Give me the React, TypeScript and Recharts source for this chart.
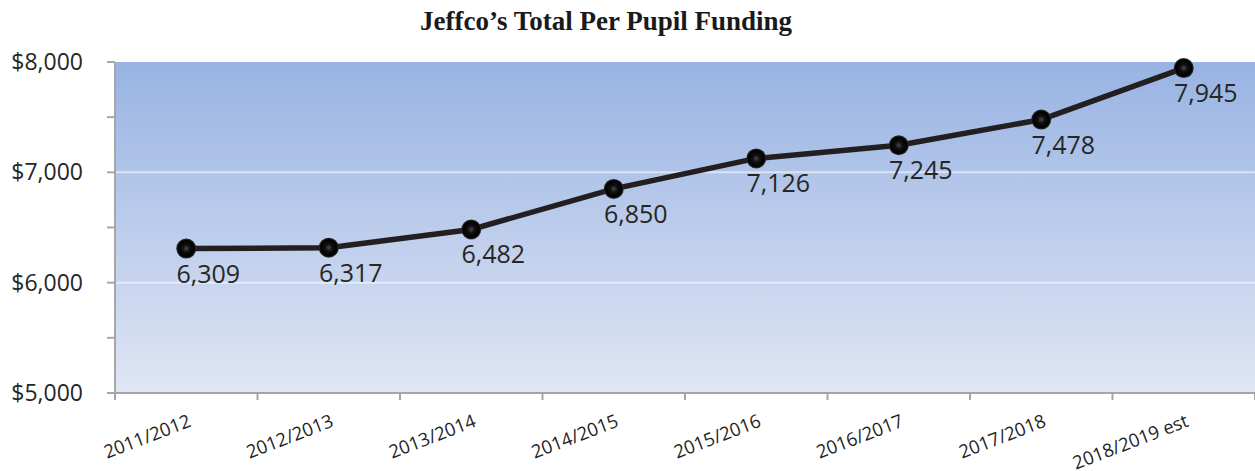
import React from 'react';
import {
  LineChart,
  Line,
  XAxis,
  YAxis,
  CartesianGrid,
  LabelList
} from 'recharts';

const years = ['2011/2012', '2012/2013', '2013/2014', '2014/2015', '2015/2016', '2016/2017', '2017/2018', '2018/2019 est'];
const funding = [6309, 6317, 6482, 6850, 7126, 7245, 7478, 7945];
const yTicks = [5000, 5500, 6000, 6500, 7000, 7500, 8000];
const xTicks = [0, 0.5, 1, 1.5, 2, 2.5, 3, 3.5, 4, 4.5, 5, 5.5, 6, 6.5, 7, 7.5, 8];

const data = years.map((year, i) => ({ x: i + 0.5, year, value: funding[i] }));

const sans = '"Open Sans", "Liberation Sans", sans-serif';

const XTick = ({ x, y, payload }: any) => {
  const v = payload.value;
  if (Number.isInteger(v)) {
    return <line x1={x} y1={y} x2={x} y2={y + 7} stroke="#a6a6a6" strokeWidth={2} />;
  }
  const label = years[Math.floor(v)];
  const tx = x + 6;
  const ty = y + 33;
  return (
    <text
      x={tx}
      y={ty}
      textAnchor="end"
      fontSize={18.5}
      fontFamily={sans}
      fill="#1f1f1f"
      transform={`rotate(-21 ${tx} ${ty})`}
    >
      {label}
    </text>
  );
};

const Dot = ({ cx, cy }: any) => (
  <circle cx={cx} cy={cy} r={10} fill="url(#ball)" />
);

const ValueLabel = ({ x, y, value }: any) => (
  <text
    x={x + 22}
    y={y + 24}
    textAnchor="middle"
    dominantBaseline="central"
    fontSize={25}
    fontFamily={sans}
    fill="#262626"
  >
    {value.toLocaleString('en-US')}
  </text>
);

export default function App() {
  return (
    <div style={{ position: 'absolute', left: 0, top: 0, width: 1255, height: 471, background: '#fff' }}>
      <div
        style={{
          position: 'absolute',
          left: 0,
          top: 6,
          width: 1212,
          textAlign: 'center',
          fontFamily: '"Liberation Serif", "Times New Roman", serif',
          fontWeight: 'bold',
          fontSize: 27,
          color: '#1a1a1a'
        }}
      >
        Jeffco’s Total Per Pupil Funding
      </div>
      <LineChart width={1255} height={471} data={data} margin={{ top: 62, right: 0, left: 0, bottom: 0 }}>
        <defs>
          <linearGradient id="plotBg" x1="0" y1="0" x2="0" y2="1">
            <stop offset="0%" stopColor="#98b3e3" />
            <stop offset="100%" stopColor="#e0e6f4" />
          </linearGradient>
          <radialGradient id="ball" cx="50%" cy="50%" r="50%">
            <stop offset="0%" stopColor="#4a4a4a" />
            <stop offset="35%" stopColor="#111" />
            <stop offset="80%" stopColor="#000" />
            <stop offset="100%" stopColor="#333" />
          </radialGradient>
        </defs>
        <CartesianGrid
          vertical={false}
          horizontalValues={[6000, 7000]}
          stroke="#ffffff"
          strokeOpacity={0.55}
          strokeWidth={2}
          fill="url(#plotBg)"
        />
        <XAxis
          dataKey="x"
          type="number"
          domain={[0, 8]}
          ticks={xTicks}
          interval={0}
          height={78}
          tickSize={0}
          tickMargin={0}
          tickLine={false}
          axisLine={{ stroke: '#a6a6a6', strokeWidth: 2 }}
          tick={<XTick />}
        />
        <YAxis
          type="number"
          domain={[5000, 8000]}
          ticks={yTicks}
          interval={0}
          width={115}
          tickSize={8}
          tickMargin={24}
          axisLine={{ stroke: '#a6a6a6', strokeWidth: 2 }}
          tickLine={{ stroke: '#a6a6a6', strokeWidth: 2 }}
          tick={{ fontSize: 23, fontFamily: sans, fill: '#262626' }}
          tickFormatter={(v: number) => (v % 1000 === 0 ? '$' + v.toLocaleString('en-US') : '')}
        />
        <Line
          type="linear"
          dataKey="value"
          stroke="#231f20"
          strokeWidth={5.5}
          dot={<Dot />}
          activeDot={false}
          isAnimationActive={false}
        >
          <LabelList dataKey="value" content={<ValueLabel />} />
        </Line>
      </LineChart>
    </div>
  );
}
